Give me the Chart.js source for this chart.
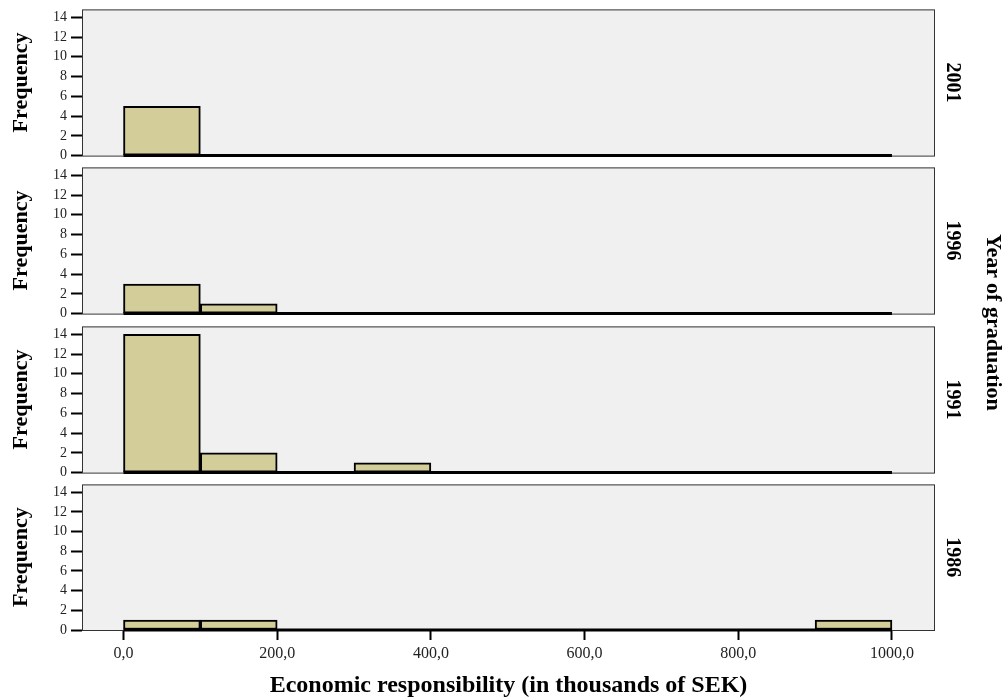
<!DOCTYPE html>
<html>
<head>
<meta charset="utf-8">
<script src="https://cdn.jsdelivr.net/npm/chart.js@4/dist/chart.umd.min.js"></script>
<style>
  body { margin: 0; background: #fff; width: 1007px; height: 698px; position: relative; overflow: hidden; }
  canvas { position: absolute; left: 0; }
  #facetTitle {
    position: absolute; left: 980px; top: 222px; width: 28px; height: 200px;
    writing-mode: vertical-rl; text-align: center;
    font: bold 22px 'Liberation Serif', serif; color: #000; line-height: 28px;
  }
</style>
</head>
<body>
<canvas id="p0" width="1007" height="171" style="top:-3px"></canvas>
<canvas id="p1" width="1007" height="171" style="top:155px"></canvas>
<canvas id="p2" width="1007" height="171" style="top:314px"></canvas>
<canvas id="p3" width="1007" height="226" style="top:472px"></canvas>
<div id="facetTitle">Year of graduation</div>
<script>
// ── Data ─────────────────────────────────────────────────────────────
const years      = ['2001', '1996', '1991', '1986'];
const binEdges   = [0, 100, 200, 300, 400, 500, 600, 700, 800, 900, 1000];
const counts2001 = [5, 0, 0, 0, 0, 0, 0, 0, 0, 0];
const counts1996 = [3, 1, 0, 0, 0, 0, 0, 0, 0, 0];
const counts1991 = [14, 2, 0, 1, 0, 0, 0, 0, 0, 0];
const counts1986 = [1, 1, 0, 0, 0, 0, 0, 0, 0, 1];
const xTicks     = [0, 200, 400, 600, 800, 1000];
const yTicks     = [0, 2, 4, 6, 8, 10, 12, 14];
const xTitle     = 'Economic responsibility (in thousands of SEK)';
const yTitle     = 'Frequency';

const allCounts = [counts2001, counts1996, counts1991, counts1986];

const SERIF = "'Liberation Serif', 'Times New Roman', serif";
const BAR_FILL = '#d3ce99';

// ── Plugins ──────────────────────────────────────────────────────────
const panelFrame = {
  id: 'panelFrame',
  beforeDraw(chart) {
    const { ctx, chartArea: a } = chart;
    ctx.save();
    ctx.fillStyle = '#f0f0f0';
    ctx.fillRect(a.left, a.top, a.right - a.left, a.bottom - a.top);
    ctx.restore();
  },
  beforeDatasetsDraw(chart) {
    const { ctx, chartArea: a } = chart;
    ctx.save();
    ctx.strokeStyle = '#333';
    ctx.lineWidth = 1;
    ctx.strokeRect(a.left + 0.5, a.top + 0.5, a.right - a.left - 1, a.bottom - a.top);
    ctx.restore();
  },
};

const facetLabel = {
  id: 'facetLabel',
  afterDraw(chart, args, opts) {
    const { ctx, chartArea: a } = chart;
    ctx.save();
    ctx.translate(952, (a.top + a.bottom) / 2);
    ctx.rotate(Math.PI / 2);
    ctx.font = 'bold 20px ' + SERIF;
    ctx.fillStyle = '#000';
    ctx.textAlign = 'center';
    ctx.textBaseline = 'middle';
    ctx.fillText(opts.text, 0, 0);
    ctx.restore();
  },
};

// ── Panels ───────────────────────────────────────────────────────────
function panel(idx) {
  const counts = allCounts[idx];
  const isBottom = idx === allCounts.length - 1;
  const bars = counts.map((c, i) => ({ x: (binEdges[i] + binEdges[i + 1]) / 2, y: c }));
  const zeroLine = [{ x: binEdges[0], y: 0 }, { x: binEdges[binEdges.length - 1], y: 0 }];

  return new Chart(document.getElementById('p' + idx), {
    type: 'bar',
    data: {
      datasets: [
        { type: 'bar', data: bars, backgroundColor: BAR_FILL, borderColor: '#000',
          borderWidth: 2, borderSkipped: false, barPercentage: 1, categoryPercentage: 1,
          clip: false, order: 1 },
        { type: 'line', data: zeroLine, borderColor: '#000', borderWidth: 3,
          pointRadius: 0, clip: false, order: 2 },
      ],
    },
    options: {
      responsive: false,
      animation: false,
      events: [],
      layout: { padding: { left: 0, right: 72, top: 10, bottom: isBottom ? 0 : 10 } },
      plugins: { legend: { display: false }, tooltip: { enabled: false }, facetLabel: { text: years[idx] } },
      scales: {
        x: {
          type: 'linear', min: -54, max: 1056, offset: false,
          display: isBottom,
          afterBuildTicks: s => { s.ticks = xTicks.map(v => ({ value: v })); },
          afterFit: s => { if (isBottom) s.height = 68; },
          grid: { offset: false, drawOnChartArea: false, drawTicks: true, tickLength: 10, tickWidth: 2, color: '#000' },
          border: { display: false },
          ticks: { color: '#222', padding: 4, maxRotation: 0, autoSkip: false, font: { family: SERIF, size: 16 },
            callback: v => v.toFixed(1).replace('.', ',') },
          title: { display: true, text: xTitle, color: '#000', padding: { top: 0, bottom: -2 },
            font: { family: SERIF, size: 24, weight: 'bold' } },
        },
        y: {
          min: 0, max: 14.8,
          afterBuildTicks: s => { s.ticks = yTicks.map(v => ({ value: v })); },
          afterFit: s => { s.width = 82; },
          grid: { drawOnChartArea: false, drawTicks: true, tickLength: 11, tickWidth: 2, color: '#000' },
          border: { display: false },
          ticks: { color: '#222', padding: 4, autoSkip: false, font: { family: SERIF, size: 14 } },
          title: { display: true, text: yTitle, color: '#000', padding: { top: 8, bottom: 0 },
            font: { family: SERIF, size: 22, weight: 'bold' } },
        },
      },
    },
    plugins: [panelFrame, facetLabel],
  });
}

years.forEach((_, i) => panel(i));
</script>
</body>
</html>
